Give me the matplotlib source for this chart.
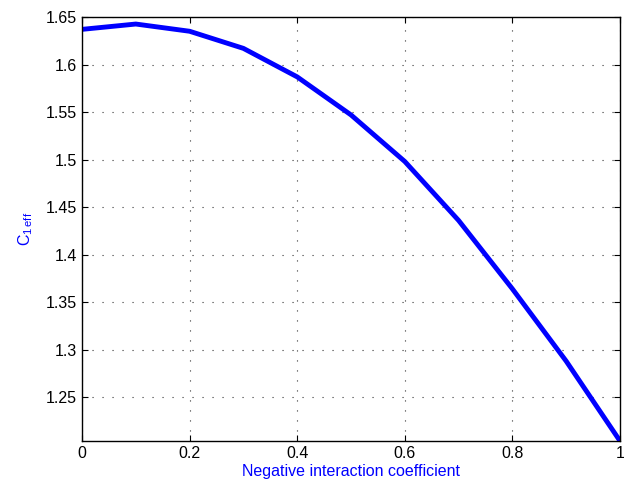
import matplotlib
matplotlib.use("Agg")
import matplotlib.pyplot as plt

x = [0.0, 0.1, 0.2, 0.3, 0.4, 0.5, 0.6, 0.7, 0.8, 0.9, 1.0]
y = [1.637, 1.6426, 1.635, 1.617, 1.587, 1.547, 1.498, 1.436, 1.364, 1.288, 1.204]
xticks = [0, 0.2, 0.4, 0.6, 0.8, 1]
xticklabels = ["0", "0.2", "0.4", "0.6", "0.8", "1"]
yticks = [1.25, 1.3, 1.35, 1.4, 1.45, 1.5, 1.55, 1.6, 1.65]
yticklabels = ["1.25", "1.3", "1.35", "1.4", "1.45", "1.5", "1.55", "1.6", "1.65"]

plt.rcParams['font.family'] = ['Liberation Sans', 'DejaVu Sans']
fig = plt.figure(figsize=(6.24, 4.87), dpi=100)
ax = fig.add_axes([82/624, 46/487, 538/624, 424/487])
ax.plot(x, y, color='#0000ff', linewidth=3.5, solid_capstyle='butt')
ax.set_xlim(0, 1)
ax.set_ylim(min(y), 1.65)
ax.set_xticks(xticks)
ax.set_xticklabels(xticklabels)
ax.set_yticks(yticks)
ax.set_yticklabels(yticklabels)
ax.tick_params(direction='in', length=4, labelsize=11.5, top=True, right=True, width=0.8)
ax.grid(True, linestyle=(0, (1, 8)), color='#333333', linewidth=0.8)
for s in ax.spines.values():
    s.set_linewidth(1.0)
ax.set_xlabel('Negative interaction coefficient', color='#0000ff', fontsize=11.5, labelpad=2)
ax.set_ylabel(r'C$_{\mathregular{1\,eff}}$', color='#0000ff', fontsize=11.5, labelpad=8)
fig.savefig('out.png', dpi=100, facecolor='white')
